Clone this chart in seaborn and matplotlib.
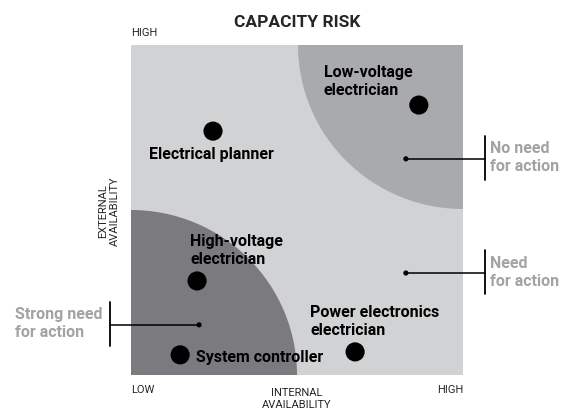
import matplotlib
matplotlib.use("Agg")
import matplotlib.pyplot as plt
import matplotlib.patches as mpatches
import seaborn as sns
import pandas as pd

# roles placed on the internal / external availability grid (0-10 scale)
roles = ["Low-voltage\nelectrician", "Electrical planner", "High-voltage\nelectrician",
         "System controller", "Power electronics\nelectrician"]
internal = [8.67, 2.47, 1.99, 1.48, 6.75]
external = [8.18, 7.39, 2.85, 0.61, 0.70]

# zone markers
zones = ["No need\nfor action", "Need\nfor action", "Strong need\nfor action"]
zone_x = [8.28, 8.28, 2.05]
zone_y = [6.55, 3.09, 1.52]

axis_low, axis_high = "LOW", "HIGH"

sns.set_style("white")
plt.rcParams["font.family"] = ["Roboto", "DejaVu Sans"]

LIGHT = "#d1d2d4"
MID = "#a9aaad"
DARK = "#7b7b7f"
GRAYTXT = "#a2a3a6"

fig = plt.figure(figsize=(5.63, 4.10), dpi=100)
ax = fig.add_axes([131 / 563, 34 / 410, 332 / 563, 330 / 410])
ax.set_xlim(0, 10)
ax.set_ylim(0, 10)
ax.set_facecolor(LIGHT)
for s in ax.spines.values():
    s.set_visible(False)
ax.set_xticks([])
ax.set_yticks([])

# quarter-circle zones
ax.add_patch(mpatches.Ellipse((10, 10), 2 * 4.97, 2 * 4.97, color=MID, lw=0, zorder=1))
ax.add_patch(mpatches.Ellipse((0, 0), 2 * 5.0, 2 * 5.0, color=DARK, lw=0, zorder=1))

df = pd.DataFrame({"role": roles, "internal": internal, "external": external})
sns.scatterplot(data=df, x="internal", y="external", s=190, color="black",
                edgecolor="none", ax=ax, zorder=5)

offsets = [(-95, 25), (-64, -22), (-7, 31), (16, -2), (-45, 31)]
for r, x, y, off in zip(roles, internal, external, offsets):
    ax.annotate(r, (x, y), xytext=off, textcoords="offset pixels",
                ha="left", va="center", fontsize=11.5, fontweight="bold",
                color="black", linespacing=1.25, zorder=6)

zdf = pd.DataFrame({"zone": zones, "x": zone_x, "y": zone_y})
sns.scatterplot(data=zdf, x="x", y="y", s=14, color="black", edgecolor="none",
                ax=ax, zorder=5)

# leader lines out to the zone labels
bar_x = [10.66, 10.66, -0.63]
text_dx = [5, 5, -95]
for z, x, y, bx, dx in zip(zones, zone_x, zone_y, bar_x, text_dx):
    ax.plot([x, bx], [y, y], color="black", lw=1.1, clip_on=False, zorder=4)
    ax.plot([bx, bx], [y - 0.65, y + 0.7], color="black", lw=1.3, clip_on=False, zorder=4)
    ax.annotate(z, (bx, y), xytext=(dx, 2), textcoords="offset pixels", ha="left",
                va="center", fontsize=11.5, fontweight="bold", color=GRAYTXT,
                linespacing=1.25, annotation_clip=False)

ax.set_xlabel("")
ax.set_ylabel("")

# axis annotations
ax.text(0.5, 1.07, "CAPACITY RISK", transform=ax.transAxes, ha="center", va="center",
        fontsize=12.5, fontweight="bold")
ax.text(0.0, 1.04, axis_high, transform=ax.transAxes, ha="left", va="center", fontsize=8)
ax.text(0.0, -0.042, axis_low, transform=ax.transAxes, ha="left", va="center", fontsize=8)
ax.text(1.0, -0.042, axis_high, transform=ax.transAxes, ha="right", va="center", fontsize=8)
ax.text(0.5, -0.07, "INTERNAL\nAVAILABILITY", transform=ax.transAxes, ha="center",
        va="center", fontsize=8, linespacing=1.2)
ax.text(-0.065, 0.5, "EXTERNAL\nAVAILABILITY", transform=ax.transAxes, ha="center",
        va="center", fontsize=8, rotation=90, linespacing=1.2)

fig.savefig("out.png", dpi=100)
